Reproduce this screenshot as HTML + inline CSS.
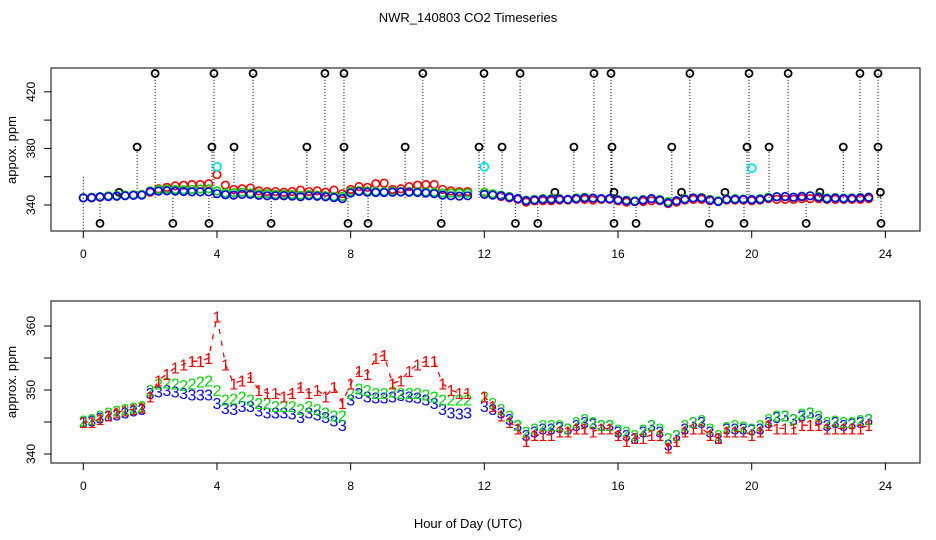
<!DOCTYPE html>
<html><head><meta charset="utf-8"><style>
html,body{margin:0;padding:0;background:#fff}
svg{display:block;font-family:"Liberation Sans",sans-serif}
</style></head><body>
<svg id="c" width="936" height="540" viewBox="0 0 936 540" xmlns="http://www.w3.org/2000/svg">
<text x="468" y="22" font-size="13" text-anchor="middle">NWR_140803  CO2 Timeseries</text>
<text x="468" y="528" font-size="13" text-anchor="middle">Hour of Day (UTC)</text>
<text transform="translate(16,150) rotate(-90)" font-size="13" text-anchor="middle">appox. ppm</text>
<text transform="translate(16,382) rotate(-90)" font-size="13" text-anchor="middle">approx. ppm</text>
</svg>
<script>
const xTicks=[0,4,8,12,16,20,24];
const topYTicks=[340,360,380,400,420];
const topYLabels=["340","","380","","420"];
const botYTicks=[340,345,350,355,360];
const botYLabels=["340","","350","","360"];
const step=0.25;
const series1=[345,345,345.5,346,346.5,346.8,347,347.3,349,351.5,352.5,353.5,354,354.5,354.5,355,361.5,354,351,351.5,352,350,349.5,349.5,349,349.5,350.5,349.5,350,349,350.5,348,351,353,352.5,355,355.5,351,351.5,353,354,354.5,354.5,351,350,349.5,349.5,null,349,347.5,346,345,344,342,343,343,343,343.5,343.5,344,344,343.5,344,344,343,342,342.5,342.5,343,343,341,342,343.5,344,344,343,342.5,343.5,343.5,343.5,343,343.5,344.5,344,344,344,344.5,344.5,344.5,344,344,344,344,344,344.5];
const series2=[345.2,345.5,346,346.5,346.8,347,347.3,347.5,350,351,351.2,351,350.8,351,351.3,351.5,350,348.5,348.7,349,348.5,348,348,347.5,347.5,347.5,347,347.5,347,346.5,346,346,349.5,350.2,350,349.5,349.5,349.8,349.5,349.5,349.5,349.3,349,348.5,348.5,348.5,348.5,null,349,348,347,346,344.5,343.5,344,344.5,344.5,344.5,344,345,345.5,345,344.5,344.5,343.8,343.5,343,343.8,344.5,344,342.5,343,344.5,345,345.3,344,343,344.2,344.5,344.3,344,344.5,345.5,346,346,345.5,346.3,346.5,346,345,345.2,345,345,345.3,345.5];
const series3=[345,345.2,345.7,346,346.2,346.5,346.8,347,349.5,349.8,350,349.8,349.5,349.3,349.3,349.3,348,347.2,347,347.5,347.5,346.8,346.5,346.5,346.5,346.3,345.8,346.5,346.2,345.8,345.2,344.5,348.5,349.5,349,348.8,348.8,349,349.2,349,348.8,348.5,348,347,346.5,346.3,346.5,null,347.5,347,346.5,345.5,344.5,343,343.5,344,344,344.2,344,344.5,345,344.8,344.5,344.5,343.5,343,342.5,343.5,344.5,343.5,341.5,343,344,345,345,343.5,342.5,344,344,344,343.8,344,345,345.8,346,345.5,346,346.5,345.5,344.5,345,344.5,344.8,345,345.5];
const outlierTimes=[2.15,3.91,5.08,7.23,7.80,10.16,11.99,13.07,15.28,15.79,18.15,19.92,21.09,23.24,23.78,1.61,3.85,4.51,6.69,7.80,9.63,11.84,12.53,14.68,15.82,17.61,19.86,20.52,22.74,23.78,0.50,2.68,3.76,5.62,7.92,8.52,10.71,12.93,13.6,15.88,16.54,18.73,19.77,21.63,23.87,1.07,14.11,15.88,17.9,19.2,22.04,23.85];
const outlierValues=[433,433,433,433,433,433,433,433,433,433,433,433,433,433,433,381,381,381,381,381,381,381,381,381,381,381,381,381,381,381,327,327,327,327,327,327,327,327,327,327,327,327,327,327,327,349,349,349,349,349,349,349];
const cyanTimes=[4.0,12.0,20.0];
const cyanValues=[367,367,366];

const NS="http://www.w3.org/2000/svg";
const svg=document.getElementById('c');
function mk(tag,attrs,parent){const e=document.createElementNS(NS,tag);for(const k in attrs)e.setAttribute(k,attrs[k]);(parent||svg).appendChild(e);return e;}
const L=51,R=920;
const xs=t=>83.3+t*33.42;
const yTop=v=>205-(v-340)*1.415;
const yBot=v=>454-(v-340)*6.4;

function axes(top,bottom,yf,ticks,labels,name){
  const g=mk('g',{});
  
  
  const box=mk('rect',{x:L,y:top,width:R-L,height:bottom-top,fill:'none',stroke:'#000','stroke-width':1},g);
  
  
  mk('line',{x1:xs(0),x2:xs(24),y1:bottom,y2:bottom,stroke:'#000'},g);
  xTicks.forEach(t=>{
    mk('line',{x1:xs(t),x2:xs(t),y1:bottom,y2:bottom+7,stroke:'#000'},g);
    const tx=mk('text',{x:xs(t),y:bottom+27,'font-size':12,'text-anchor':'middle'},g);
    tx.textContent=t;
    
    
  });
  ticks.forEach((v,i)=>{
    mk('line',{x1:L,x2:L-7,y1:yf(v),y2:yf(v),stroke:'#000'},g);
    if(labels[i]){
      const tx=mk('text',{transform:`translate(${L-16},${yf(v)}) rotate(-90)`,'font-size':12,'text-anchor':'middle'},g);
      tx.textContent=labels[i];
      
      
    }
  });
}
axes(68,231,yTop,topYTicks,topYLabels,'top');
axes(301,463,yBot,botYTicks,botYLabels,'bottom');

const gO=mk('g',{});


outlierTimes.forEach((t,i)=>{
  mk('line',{x1:xs(t),x2:xs(t),y1:yTop(345),y2:yTop(outlierValues[i]),stroke:'#000','stroke-dasharray':'1,2'},gO);
});
mk('line',{x1:xs(0),x2:xs(0),y1:yTop(360),y2:231,stroke:'#000','stroke-dasharray':'1,2'},gO);

const cols=['#ff0000','#00dd00','#0000ff'];
const sers=[series1,series2,series3];
sers.forEach((s,k)=>{
  const g=mk('g',{});
  
  
  s.forEach((v,i)=>{ if(v===null)return;
    const c=mk('circle',{cx:xs(i*step),cy:yTop(v),r:3.8,fill:'none',stroke:cols[k],'stroke-width':1.6},g);
    
    
  });
});
outlierTimes.forEach((t,i)=>{
  const c=mk('circle',{cx:xs(t),cy:yTop(outlierValues[i]),r:3.5,fill:'none',stroke:'#000','stroke-width':1.8},gO);
  
  
});
cyanTimes.forEach((t,i)=>{
  const c=mk('circle',{cx:xs(t),cy:yTop(cyanValues[i]),r:4,fill:'none',stroke:'#00e5ee','stroke-width':1.8});
  
  
});

[2,1,0].forEach(k=>{
  const s=sers[k];
  const g=mk('g',{});
  
  
  let d='';let pen=false;
  s.forEach((v,i)=>{ if(v===null){pen=false;return;}
    d+=(pen?'L':'M')+xs(i*step).toFixed(1)+','+yBot(v).toFixed(1);pen=true;});
  if(k===0) mk('path',{d:d,fill:'none',stroke:cols[k],'stroke-width':1.3,'stroke-dasharray':'5,7'},g);
  s.forEach((v,i)=>{ if(v===null)return;
    const tx=mk('text',{x:xs(i*step),y:yBot(v)+6,'font-size':16,'text-anchor':'middle',fill:cols[k]},g);
    tx.textContent=String(k+1);
    
    
  });
});
</script>
</body></html>
